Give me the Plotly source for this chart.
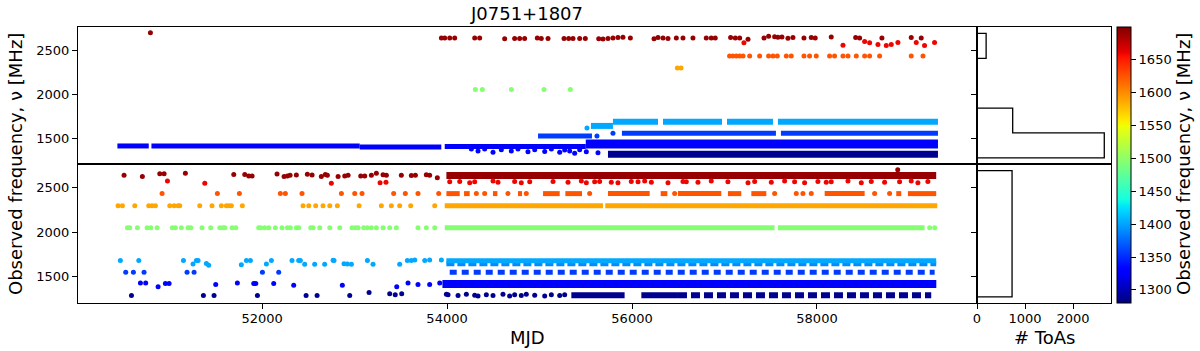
import numpy as np
import plotly.graph_objects as go

pulsar = "J0751+1807"

# colour value (MHz) of every frequency band
c_darkred = 1692
c_red = 1660
c_orangered = 1625
c_orange = 1588
c_green = 1495
c_lightblue = 1402
c_lightblue2 = 1390
c_blue = 1357
c_blue2 = 1332
c_navy = 1286
c_min, c_max = 1280, 1700

# ---------------- top panel ----------------
top_darkred_mjd = [50793, 53939, 53975, 54029, 54083, 54299, 54353, 54623, 54731, 54785,
                   54839, 54976, 55019, 55092, 55265, 55315, 55362, 55434, 55495, 55640,
                   55686, 55740, 55794, 55848, 55902, 55982, 56238, 56281, 56335, 56389,
                   56479, 56551, 56659, 56803, 56857, 56900, 57066, 57117, 57164, 57254,
                   57427, 57477, 57542, 57578, 57621, 57686, 57740, 57859, 57938, 57981,
                   58154, 58418, 58461, 58702, 59019, 59127]
top_darkred_freq = [2700, 2640, 2640, 2640, 2640, 2640, 2640, 2630, 2635, 2635,
                    2635, 2640, 2635, 2635, 2635, 2635, 2635, 2635, 2635, 2630,
                    2628, 2633, 2640, 2645, 2648, 2640, 2630, 2645, 2640, 2635,
                    2640, 2640, 2640, 2640, 2640, 2640, 2645, 2640, 2640, 2625,
                    2640, 2660, 2655, 2648, 2650, 2638, 2645, 2640, 2645, 2640,
                    2650, 2645, 2640, 2640, 2645, 2640]
top_red_mjd = [57210, 58281, 58515, 58569, 58659, 58749, 58803, 58875, 59073, 59163, 59271]
top_red_freq = [2587, 2557, 2600, 2587, 2565, 2555, 2565, 2590, 2590, 2555, 2590]
top_orangered_mjd = [57055, 57091, 57128, 57164, 57200, 57272, 57380, 57477, 57524, 57571,
                     57668, 57722, 57859, 57920, 57992, 58136, 58190, 58281, 58335, 58425,
                     58515, 58569, 58677, 59019, 59146]
top_orangered_freq = 2436
top_orange_mjd = [56490, 56530]
top_orange_freq = 2300
top_green_mjd = [54306, 54382, 54696, 55048, 55333]
top_green_freq = 2055

# dense rows (start / end MJD)
top_blue2_start = [50436, 50804, 53056, 53975]
top_blue2_end = [50775, 53056, 53938, 55500]
top_blue2_freq = [1412, 1412, 1400, 1405]
top_blue2_late_start = [55500]
top_blue2_late_end = [59308]
top_blue2_late_freq = 1435
top_blue2_jit_mjd = [54263, 54335, 54407, 54497, 54587, 54695, 54767, 54875, 54948, 55056,
                     55128, 55218, 55272, 55326, 55380, 55434, 55506, 55632]
top_blue2_jit_freq = [1378, 1356, 1378, 1340, 1370, 1356, 1378, 1345, 1370, 1350,
                      1378, 1340, 1365, 1356, 1330, 1370, 1345, 1335]
top_lightblue_start = [55556, 55794, 56335, 57027, 57578]
top_lightblue_end = [55794, 56281, 56973, 57524, 59308]
top_lightblue_freq = [1640, 1688, 1688, 1688, 1688]
top_lightblue_pt_mjd = [55513]
top_lightblue_pt_freq = [1617]
top_blue_start = [54984, 55891, 57610]
top_blue_end = [55567, 57556, 59308]
top_blue_freq = [1526, 1556, 1556]
top_blue_pt_mjd = [55621, 55794]
top_blue_pt_freq = [1526, 1556]
top_navy_start = [55740]
top_navy_end = [59308]
top_navy_freq = 1318

top_hist_edges = [1277, 1560, 1843, 2126, 2409, 2693]
top_hist_counts = [2650, 743, 5, 1, 190]

# ---------------- bottom panel ----------------
bot_darkred_mjd = [50508, 50706, 50894, 50941, 51171, 51694, 51813, 51856, 51892, 52162,
                   52238, 52274, 52303, 52371, 52490, 52541, 52641, 52684, 52706, 52822,
                   52894, 52930, 53067, 53110, 53182, 53236, 53308, 53344, 53506, 53614,
                   53658, 53776, 53812, 53895, 58873]
bot_darkred_freq = [2639, 2624, 2657, 2657, 2661, 2646, 2646, 2631, 2631, 2654,
                    2624, 2631, 2639, 2642, 2650, 2642, 2624, 2646, 2639, 2624,
                    2631, 2639, 2631, 2631, 2639, 2661, 2645, 2640, 2640, 2635,
                    2640, 2645, 2640, 2612, 2700]
bot_darkred_start = [53993]
bot_darkred_end = [59289]
bot_darkred_row = 2636
bot_red_mjd = [50977, 51381, 52749, 53276, 53340, 54029, 54137, 54245, 54299, 54497,
               54551, 54731, 54803, 54894, 55146, 55308, 55452, 55506, 55596, 55650,
               55776, 55848, 55992, 56065, 56137, 56209, 56389, 56551, 56587, 56713,
               56857, 57037, 57254, 57326, 57506, 57650, 57758, 57866, 58010, 58100,
               58154, 58335, 58479, 58587, 58731, 58893, 59019, 59091, 59199]
bot_red_freq = [2575, 2549, 2549, 2555, 2560, 2565, 2570, 2555, 2565, 2575,
                2560, 2570, 2555, 2565, 2570, 2560, 2575, 2555, 2565, 2570,
                2560, 2555, 2570, 2565, 2575, 2560, 2555, 2570, 2565, 2560,
                2575, 2565, 2555, 2570, 2560, 2575, 2565, 2555, 2570, 2560,
                2565, 2575, 2555, 2570, 2560, 2565, 2575, 2555, 2570]
bot_orangered_mjd = [50919, 51517, 51755, 52198, 52252, 52432, 52858, 53002, 53081, 53423,
                     53549, 53686, 53910, 54317, 54407, 54659, 54857, 55542, 56461, 57542,
                     57776, 57848, 57938, 58623, 58785]
bot_orangered_freq = 2433
bot_orangered_start = [53993, 54184, 54497, 54767, 55038, 55279, 55740, 56310, 56497, 57037,
                       57290, 58083, 58857, 58983]
bot_orangered_end = [54137, 54245, 54544, 54811, 55218, 55459, 56191, 56382, 56965, 57181,
                     57452, 58515, 58911, 59289]
bot_orange_mjd = [50443, 50490, 50624, 50775, 50811, 50847, 51002, 51049, 51092, 51110,
                  51326, 51459, 51560, 51614, 51640, 51668, 51787, 52443, 52505, 52580,
                  52659, 52732, 52814, 53049, 53290, 53398, 53488, 53607, 53867]
bot_orange_freq = 2298
bot_orange_start = [53975, 55711]
bot_orange_end = [55686, 59300]
bot_green_mjd = [50544, 50570, 50652, 50757, 50797, 50865, 51030, 51063, 51128, 51200,
                 51229, 51351, 51445, 51543, 51578, 51597, 51676, 51716, 51964, 51986,
                 52029, 52072, 52144, 52216, 52274, 52306, 52371, 52397, 52526, 52551,
                 52624, 52732, 52840, 52973, 53009, 53038, 53099, 53138, 53182, 53236,
                 53308, 53380, 53452, 53686, 53776, 53867, 59218, 59272]
bot_green_freq = 2050
bot_green_start = [53975, 57578]
bot_green_end = [57542, 59164]
bot_lightblue_mjd = [50468, 50667, 51150, 51254, 51290, 51308, 51398, 51423, 51776, 51831,
                     51874, 52047, 52101, 52324, 52396, 52414, 52461, 52569, 52677, 52768,
                     52778, 52886, 52922, 52966, 53139, 53200, 53488, 53571, 53614, 53651,
                     53759, 53812, 53939]
bot_lightblue_freq = [1683, 1683, 1683, 1645, 1683, 1683, 1650, 1630, 1635, 1683,
                      1683, 1645, 1683, 1683, 1683, 1683, 1640, 1640, 1640, 1686,
                      1683, 1648, 1645, 1640, 1683, 1640, 1640, 1683, 1683, 1690,
                      1683, 1690, 1690]
bot_lightblue_start = [53993]
bot_lightblue_end = [59289]
bot_lightblue_row = 1680
bot_lightblue2_row = 1648
bot_blue_mjd = [50526, 50609, 50724, 51189, 51265, 52004, 52180]
bot_blue_freq = 1553
bot_blue_start = [54029]
bot_blue_end = [59272]
bot_blue2_mjd = [50685, 50742, 50876, 50955, 50995, 51499, 51733, 51910, 51932, 52126,
                 52342, 52868, 53456, 53578, 53686, 53812, 53921]
bot_blue2_freq = [1430, 1430, 1390, 1425, 1425, 1415, 1430, 1425, 1425, 1425,
                  1405, 1405, 1390, 1430, 1415, 1415, 1430]
bot_blue2_start = [53950]
bot_blue2_end = [59290]
bot_blue2_row = 1420
bot_navy_mjd = [50588, 51366, 51481, 51950, 52476, 52595, 52948, 53157, 53380, 53440,
                53510, 53993, 54011, 54119, 54209, 54299, 54335, 54425, 54497, 54605,
                54677, 54731, 54803, 54857, 54948, 55056, 55128, 55218, 55272]
bot_navy_freq = [1290, 1290, 1290, 1290, 1290, 1290, 1290, 1325, 1310, 1300,
                 1310, 1305, 1300, 1290, 1305, 1295, 1285, 1300, 1290, 1305,
                 1285, 1300, 1290, 1305, 1295, 1285, 1300, 1290, 1300]
bot_navy_start = [55344, 56101]
bot_navy_end = [55920, 56497]
bot_navy_dash_start = [56497]
bot_navy_dash_end = [59235]
bot_navy_row = 1295

bot_hist_edges = [1275, 2691]
bot_hist_counts = [730]


def jet(t):
    t = min(max(t, 0.0), 1.0)
    r = np.interp(t, [0, 0.35, 0.66, 0.89, 1], [0, 0, 1, 1, 0.5])
    g = np.interp(t, [0, 0.125, 0.375, 0.64, 0.91, 1], [0, 0, 1, 1, 0, 0])
    b = np.interp(t, [0, 0.11, 0.34, 0.65, 1], [0.5, 1, 1, 0, 0])
    return "rgb(%d,%d,%d)" % (round(r * 255), round(g * 255), round(b * 255))


def cval(c):
    return jet((c - c_min) / (c_max - c_min))


jet_scale = [[i / 100, jet(i / 100)] for i in range(101)]

fig = go.Figure()


def add_segments(starts, ends, freq, c, xa, ya, width=5, dash='solid'):
    xs, ys = [], []
    for i, (s, e) in enumerate(zip(starts, ends)):
        f = freq[i] if isinstance(freq, list) else freq
        xs += [s, e, None]
        ys += [f, f, None]
    fig.add_trace(go.Scatter(x=xs, y=ys, mode='lines', xaxis=xa, yaxis=ya,
                             line=dict(color=cval(c), width=width, dash=dash),
                             hoverinfo='skip'))


def add_points(mjd, freq, c, xa, ya):
    if not isinstance(freq, list):
        freq = [freq] * len(mjd)
    fig.add_trace(go.Scatter(x=mjd, y=freq, mode='markers', xaxis=xa, yaxis=ya,
                             marker=dict(size=5, color=[c] * len(mjd),
                                         coloraxis='coloraxis', line=dict(width=0))))


def add_hist(edges, counts, xa, ya):
    xs, ys = [0], [edges[0]]
    for i, n in enumerate(counts):
        xs += [n, n]
        ys += [edges[i], edges[i + 1]]
    xs.append(0)
    ys.append(edges[-1])
    fig.add_trace(go.Scatter(x=xs, y=ys, mode='lines', xaxis=xa, yaxis=ya,
                             line=dict(color='black', width=1.3), hoverinfo='skip'))


# top panel
add_segments(top_blue2_start, top_blue2_end, top_blue2_freq, c_blue2, 'x2', 'y2', 5)
add_segments(top_blue2_late_start, top_blue2_late_end, top_blue2_late_freq, c_blue2, 'x2', 'y2', 9)
add_segments(top_navy_start, top_navy_end, top_navy_freq, c_navy, 'x2', 'y2', 7)
add_segments(top_blue_start, top_blue_end, top_blue_freq, c_blue, 'x2', 'y2', 5)
add_segments(top_lightblue_start, top_lightblue_end, top_lightblue_freq, c_lightblue, 'x2', 'y2', 6)
add_points(top_blue2_jit_mjd, top_blue2_jit_freq, c_blue2, 'x2', 'y2')
add_points(top_blue_pt_mjd, top_blue_pt_freq, c_blue, 'x2', 'y2')
add_points(top_lightblue_pt_mjd, top_lightblue_pt_freq, c_lightblue, 'x2', 'y2')
add_points(top_green_mjd, top_green_freq, c_green, 'x2', 'y2')
add_points(top_orange_mjd, top_orange_freq, c_orange, 'x2', 'y2')
add_points(top_orangered_mjd, top_orangered_freq, c_orangered, 'x2', 'y2')
add_points(top_red_mjd, top_red_freq, c_red, 'x2', 'y2')
add_points(top_darkred_mjd, top_darkred_freq, c_darkred, 'x2', 'y2')

# bottom panel
add_segments(bot_navy_start, bot_navy_end, bot_navy_row, c_navy, 'x', 'y', 6)
add_segments(bot_navy_dash_start, bot_navy_dash_end, bot_navy_row, c_navy, 'x', 'y', 6, '9px,4px')
add_segments(bot_blue2_start, bot_blue2_end, bot_blue2_row, c_blue2, 'x', 'y', 8)
add_segments(bot_blue_start, bot_blue_end, bot_blue_freq, c_blue, 'x', 'y', 5, '7px,5px')
add_segments(bot_lightblue_start, bot_lightblue_end, bot_lightblue2_row, c_lightblue2, 'x', 'y', 5, '8px,3px')
add_segments(bot_lightblue_start, bot_lightblue_end, bot_lightblue_row, c_lightblue, 'x', 'y', 5)
add_segments(bot_green_start, bot_green_end, bot_green_freq, c_green, 'x', 'y', 5)
add_segments(bot_orange_start, bot_orange_end, bot_orange_freq, c_orange, 'x', 'y', 5)
add_segments(bot_orangered_start, bot_orangered_end, bot_orangered_freq, c_orangered, 'x', 'y', 5)
add_segments(bot_darkred_start, bot_darkred_end, bot_darkred_row, c_darkred, 'x', 'y', 7)
add_points(bot_navy_mjd, bot_navy_freq, c_navy, 'x', 'y')
add_points(bot_blue2_mjd, bot_blue2_freq, c_blue2, 'x', 'y')
add_points(bot_blue_mjd, bot_blue_freq, c_blue, 'x', 'y')
add_points(bot_lightblue_mjd, bot_lightblue_freq, c_lightblue, 'x', 'y')
add_points(bot_green_mjd, bot_green_freq, c_green, 'x', 'y')
add_points(bot_orange_mjd, bot_orange_freq, c_orange, 'x', 'y')
add_points(bot_orangered_mjd, bot_orangered_freq, c_orangered, 'x', 'y')
add_points(bot_red_mjd, bot_red_freq, c_red, 'x', 'y')
add_points(bot_darkred_mjd, bot_darkred_freq, c_darkred, 'x', 'y')

# histograms
add_hist(bot_hist_edges, bot_hist_counts, 'x3', 'y3')
add_hist(top_hist_edges, top_hist_counts, 'x4', 'y4')

W, H = 1200, 351
main_dom = [78 / W, 977 / W]
hist_dom = [977 / W, 1111 / W]
top_dom = [1 - 164 / H, 1 - 27 / H]
bot_dom = [1 - 303 / H, 1 - 164 / H]
mjd_range = [50010, 59730]
freq_range = [1207, 2765]
toa_range = [0, 2790]

axis_style = dict(showline=True, mirror=True, linecolor='black', linewidth=1,
                  showgrid=False, zeroline=False, ticks='outside', ticklen=5,
                  tickwidth=1, tickcolor='black', tickformat='d', automargin=False,
                  tickfont=dict(size=13, color='black'))
font_family = "DejaVu Sans"

fig.update_layout(
    template='none',
    width=W, height=H,
    margin=dict(l=0, r=0, t=0, b=0, autoexpand=False),
    paper_bgcolor='white', plot_bgcolor='white',
    showlegend=False,
    font=dict(family=font_family, color='black'),
    title=dict(text=pulsar, x=527 / W, y=1 - 14 / H, xref='container', yref='container',
               xanchor='center', yanchor='middle', font=dict(size=18, color='black')),
    xaxis=dict(domain=main_dom, range=mjd_range, anchor='y', ticklabelstandoff=-2,
               tickvals=[52000, 54000, 56000, 58000], **axis_style),
    yaxis=dict(domain=bot_dom, range=freq_range, anchor='x',
               tickvals=[1500, 2000, 2500], **axis_style),
    xaxis2=dict(domain=main_dom, range=mjd_range, anchor='y2',
                **{**axis_style, 'ticks': '', 'showticklabels': False}),
    yaxis2=dict(domain=top_dom, range=freq_range, anchor='x2',
                tickvals=[1500, 2000, 2500], **axis_style),
    xaxis3=dict(domain=hist_dom, range=toa_range, anchor='y3', ticklabelstandoff=-2,
                tickvals=[0, 1000, 2000], **axis_style),
    yaxis3=dict(domain=bot_dom, range=freq_range, anchor='x3',
                tickvals=[1500, 2000, 2500], **{**axis_style, 'showticklabels': False}),
    xaxis4=dict(domain=hist_dom, range=toa_range, anchor='y4',
                **{**axis_style, 'ticks': '', 'showticklabels': False}),
    yaxis4=dict(domain=top_dom, range=freq_range, anchor='x4',
                tickvals=[1500, 2000, 2500], **{**axis_style, 'showticklabels': False}),
    coloraxis=dict(
        colorscale=jet_scale, cmin=c_min, cmax=c_max,
        colorbar=dict(x=1117 / W, xanchor='left', xpad=0, ypad=0,
                      y=1 - 303 / H, yanchor='bottom', len=276 / H, lenmode='fraction',
                      thickness=14, thicknessmode='pixels',
                      outlinewidth=1, outlinecolor='black',
                      ticks='outside', ticklen=5, tickcolor='black',
                      tickvals=[1300, 1350, 1400, 1450, 1500, 1550, 1600, 1650],
                      tickformat='d', tickfont=dict(size=13, color='black'))),
    annotations=[
        dict(text="Observed frequency, ν [MHz]", x=15 / W, y=1 - 164 / H,
             xref='paper', yref='paper', showarrow=False, textangle=-90,
             xanchor='center', yanchor='middle', font=dict(size=18, color='black')),
        dict(text="MJD", x=527 / W, y=1 - 337 / H, xref='paper', yref='paper',
             showarrow=False, xanchor='center', yanchor='middle',
             font=dict(size=18, color='black')),
        dict(text="# ToAs", x=1044 / W, y=1 - 337 / H, xref='paper', yref='paper',
             showarrow=False, xanchor='center', yanchor='middle',
             font=dict(size=18, color='black')),
        dict(text="Observed frequency, ν [MHz]", x=1183 / W, y=1 - 164 / H,
             xref='paper', yref='paper', showarrow=False, textangle=-90,
             xanchor='center', yanchor='middle', font=dict(size=18, color='black')),
    ],
)

# the page's default body margin would shift the figure by 8 px
fig.write_html("out.html", config={'displayModeBar': False},
               post_script="document.body.style.margin='0px';")
